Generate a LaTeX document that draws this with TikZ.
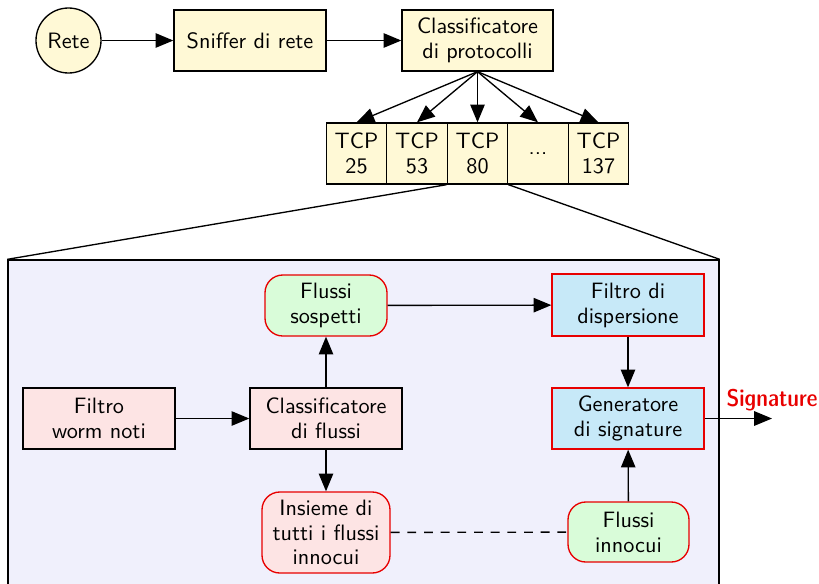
\documentclass[tikz,border=0pt]{standalone}
\usetikzlibrary{arrows.meta}
\definecolor{cream}{RGB}{255,249,214}
\definecolor{pinkfill}{RGB}{253,228,228}
\definecolor{greenfill}{RGB}{217,252,217}
\definecolor{bluefill}{RGB}{199,233,248}
\definecolor{panelfill}{RGB}{240,240,252}
\definecolor{redline}{RGB}{232,0,0}
\begin{document}
\begin{tikzpicture}[x=0.45pt,y=-0.45pt,
  every node/.style={font=\sffamily\fontsize{10}{11.2}\selectfont, align=center, inner sep=0pt, line width=0.6pt},
  ybox/.style={draw, fill=cream, minimum width=68.4pt, minimum height=27.45pt},
  tcpbox/.style={draw, fill=cream, minimum width=27.2pt, minimum height=27.45pt},
  pbox/.style={draw, fill=pinkfill, minimum width=68.4pt, minimum height=27.45pt},
  bbox/.style={draw=redline, fill=bluefill, minimum width=68.4pt, minimum height=27.9pt},
  gbox/.style={draw=redline, fill=greenfill, rounded corners=8pt, minimum width=54.9pt, minimum height=27.45pt},
  arr/.style={-{Triangle[length=8pt,width=6.5pt]}, line width=0.6pt},
  conn/.style={line width=0.6pt}
]
\useasboundingbox (0,0) rectangle (819,583);
\clip (0,0) rectangle (819,583);
% top row
\node[draw, circle, fill=cream, minimum size=29.25pt] (rete) at (68.5,40.5) {Rete};
\node[ybox] (sniff) at (250,40.5) {Sniffer di rete};
\node[ybox, minimum width=67.95pt] (cp) at (477.5,40.5) {Classificatore\\di protocolli};
\draw[arr] (rete) -- (sniff);
\draw[arr] (sniff) -- (cp);
% TCP boxes
\node[tcpbox] (t25) at (356.5,153.5) {TCP\\25};
\node[tcpbox] (t53) at (417,153.5) {TCP\\53};
\node[tcpbox] (t80) at (477.5,153.5) {TCP\\80};
\node[tcpbox] (tdots) at (538,153.5) {...};
\node[tcpbox] (t137) at (598.5,153.5) {TCP\\137};
\foreach \t in {t25,t53,t80,tdots,t137}
  \draw[arr] (cp.south) -- (\t.north);
% panel
\node[draw, fill=panelfill, minimum width=319.95pt, minimum height=153pt] (panel) at (363.5,430) {};
\draw[conn] (t80.south west) -- (panel.north west);
\draw[conn] (t80.south east) -- (panel.north east);
% inner nodes
\node[gbox] (fs) at (326,305.5) {Flussi\\sospetti};
\node[pbox] (fw) at (99,418.5) {Filtro\\worm noti};
\node[pbox] (cf) at (326,418.5) {Classificatore\\di flussi};
\node[gbox, fill=pinkfill, minimum width=57.6pt, minimum height=36.45pt] (ins) at (326,532.5) {Insieme di\\tutti i flussi\\innocui};
\node[bbox] (fd) at (628,305) {Filtro di\\dispersione};
\node[bbox, minimum height=27.45pt] (gen) at (628,418.5) {Generatore\\di signature};
\node[gbox, minimum width=54.45pt, minimum height=27pt] (fi) at (628.5,532) {Flussi\\innocui};
\coordinate (sigend) at (772,418.5);
\draw[arr] (fw) -- (cf);
\draw[arr] (cf) -- (fs);
\draw[arr] (cf) -- (ins);
\draw[arr] (fs) -- (fd);
\draw[arr] (fd) -- (gen);
\draw[arr] (fi) -- (gen);
\draw[arr] (gen) -- (sigend) node[above=3pt, text=redline, font=\sffamily\fontseries{sbc}\selectfont\fontsize{10.9}{12}\selectfont] (sig) {Signature};
\draw[conn, dashed, dash pattern=on 4pt off 3.5pt] (ins) -- (fi);
\end{tikzpicture}
\end{document}
